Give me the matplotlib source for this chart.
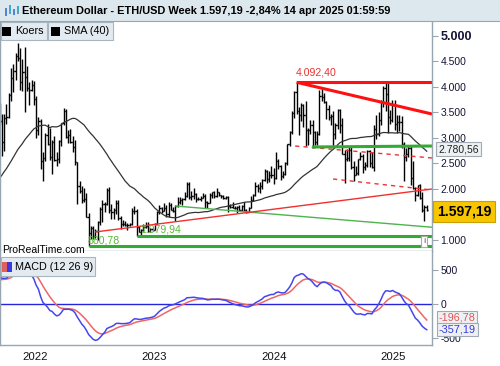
import numpy as np
import pandas as pd
import matplotlib
matplotlib.use('Agg')
import matplotlib.pyplot as plt
from matplotlib.patches import Rectangle
from matplotlib.transforms import blended_transform_factory

plt.rcParams['font.family'] = ['Liberation Sans', 'DejaVu Sans']

# weekly ETH/USD data, weeks start on monday
start_date = '2020-12-07'
# closes before the visible window (only used for SMA / MACD)
warmup_close = [585, 640, 685, 975, 1040, 1230, 1230, 1370, 1610, 1780,
                1930, 1420, 1720, 1850, 1790, 1690, 2080, 2140, 2240, 2310,
                2950, 3910, 3580, 2100, 2710, 2630, 2370, 2250, 1830, 2230,
                2140, 1900, 2190, 2550, 3010, 3300, 3220, 3230, 3930, 3410]

# visible weeks: 2021-09-13 .. 2025-04-14
high = [3680, 3470, 3470, 3660, 3890, 4380, 4460, 4670, 4870, 4770,
        4550, 4780, 4420, 4100, 4140, 4120, 3830, 3420, 3370, 2730,
        3100, 3280, 3200, 2960, 3040, 2730, 2960, 3300, 3580, 3560,
        3150, 3180, 3040, 2960, 2530, 2160, 2050, 2020, 1920, 1530,
        1280, 1270, 1220, 1380, 1650, 1780, 1750, 2020, 2030, 1710,
        1620, 1790, 1780, 1470, 1390, 1380, 1340, 1340, 1620, 1670,
        1610, 1280, 1210, 1310, 1350, 1350, 1230, 1230, 1340, 1560,
        1680, 1640, 1720, 1680, 1740, 1720, 1650, 1680, 1840, 1840,
        1820, 1950, 2140, 2130, 1970, 2010, 1920, 1850, 1860, 1930,
        1900, 1760, 1930, 1950, 1970, 2020, 1950, 1890, 1880, 1870,
        1860, 1700, 1740, 1660, 1660, 1680, 1690, 1750, 1600, 1640,
        1860, 1910, 2140, 2100, 2130, 2200, 2400, 2380, 2350, 2450,
        2420, 2720, 2590, 2470, 2350, 2520, 2890, 3130, 3520, 3930,
        4092.4, 3600, 3680, 3660, 3730, 3200, 3350, 3350, 3140, 3130,
        3950, 3980, 3890, 3720, 3640, 3480, 3520, 3290, 3560, 3560,
        3400, 2760, 2790, 2820, 2820, 2550, 2450, 2590, 2730, 2690,
        2520, 2770, 2770, 2720, 3250, 3450, 3500, 3740, 4010, 4110,
        4110, 3550, 3750, 3750, 3450, 3450, 3440, 2930, 2800, 2850,
        2850, 2550, 2030, 2070, 2100, 1950, 1690, 1690]
low = [3270, 2650, 2740, 3280, 3390, 3720, 3900, 4140, 4500, 3950,
       3920, 3500, 3920, 3650, 3920, 3640, 3000, 3050, 2400, 2160,
       2550, 2870, 2570, 2300, 2550, 2450, 2500, 2840, 3250, 3000,
       2900, 2900, 2730, 2480, 1710, 1920, 1720, 1740, 1450, 880.78,
       1010, 1010, 1030, 1000, 1300, 1360, 1550, 1680, 1530, 1420,
       1420, 1510, 1400, 1220, 1270, 1270, 1190, 1270, 1300, 1510,
       1079.94, 1150, 1090, 1180, 1230, 1160, 1150, 1180, 1190, 1310,
       1500, 1530, 1560, 1460, 1460, 1580, 1540, 1370, 1650, 1710,
       1680, 1780, 1850, 1800, 1780, 1810, 1740, 1780, 1770, 1820,
       1620, 1630, 1720, 1830, 1830, 1850, 1860, 1830, 1810, 1810,
       1550, 1620, 1620, 1600, 1530, 1570, 1570, 1560, 1520, 1540,
       1620, 1760, 1860, 1940, 1930, 2000, 2160, 2120, 2140, 2220,
       2100, 2200, 2400, 2170, 2210, 2280, 2470, 2850, 3080, 3400,
       3470, 3060, 3340, 3210, 2850, 2870, 3070, 2810, 2870, 2860,
       3060, 3730, 3680, 3370, 3360, 3250, 2810, 2980, 3170, 3100,
       2680, 2110, 2540, 2540, 2400, 2150, 2270, 2280, 2560, 2310,
       2380, 2440, 2440, 2420, 2360, 2980, 3040, 3260, 3600, 3520,
       3100, 3270, 3310, 3160, 3100, 3140, 2800, 2150, 2550, 2620,
       2080, 2000, 1760, 1870, 1810, 1540, 1380, 1560]
close = [3330, 2920, 3390, 3420, 3850, 4170, 4320, 4610, 4570, 4090,
         4300, 4200, 3980, 3940, 4040, 3770, 3150, 3330, 2540, 2600,
         3050, 2880, 2630, 2920, 2570, 2580, 2950, 3290, 3520, 3020,
         3060, 2920, 2830, 2520, 2060, 1970, 1790, 1800, 1460, 1130,
         1240, 1070, 1170, 1350, 1600, 1700, 1700, 1980, 1580, 1550,
         1580, 1720, 1440, 1310, 1310, 1290, 1300, 1310, 1570, 1570,
         1260, 1160, 1200, 1260, 1270, 1170, 1220, 1200, 1320, 1550,
         1630, 1570, 1630, 1510, 1690, 1590, 1560, 1670, 1750, 1780,
         1800, 1860, 2090, 1840, 1870, 1900, 1800, 1810, 1830, 1860,
         1750, 1720, 1890, 1940, 1870, 1940, 1890, 1860, 1830, 1850,
         1670, 1650, 1630, 1620, 1650, 1590, 1670, 1580, 1550, 1630,
         1780, 1890, 2050, 2010, 2060, 2170, 2360, 2190, 2270, 2280,
         2210, 2550, 2450, 2260, 2300, 2500, 2880, 3110, 3490, 3900,
         3520, 3450, 3650, 3450, 3150, 3160, 3250, 3110, 2920, 3070,
         3820, 3810, 3700, 3570, 3420, 3430, 3070, 3250, 3540, 3250,
         2690, 2580, 2610, 2760, 2430, 2270, 2320, 2580, 2650, 2440,
         2470, 2750, 2510, 2440, 3180, 3080, 3360, 3710, 3990, 3870,
         3420, 3350, 3640, 3270, 3310, 3320, 2880, 2630, 2690, 2810,
         2220, 2020, 1890, 2080, 1820, 1580, 1640, 1597.19]

title = "Ethereum Dollar - ETH/USD Week 1.597,19 -2,84% 14 apr 2025 01:59:59"
price_ticks = [1000, 1500, 2000, 2500, 3000, 3500, 4000, 4500, 5000]
# 1.500 sits behind the price box in the original
price_tick_labels = ['1.000', '', '2.000', '2.500', '3.000', '3.500',
                     '4.000', '4.500', '5.000']
macd_ticks = [-500, 0, 500]
macd_tick_labels = ['-500', '0', '500']
years = [2022, 2023, 2024, 2025]

last_price, last_label = 1597.19, '1.597,19'
sma_last, sma_label = 2780.56, '2.780,56'
signal_last, signal_label = -196.78, '-196,78'
macd_last, macd_label = -357.19, '-357,19'

# user drawn lines: (week from, price from, week to, price to)
right_week = 229.3
red_thin = (81.8, 1157, right_week, 2000)
red_top = (170, 4092.4, right_week, 4092.4)
red_down = (170, 4092.4, right_week, 3470)
red_dash_a = (169.4, 2843, right_week, 2608)
red_dash_b = (186.0, 2196, right_week, 1980)
green_range = (176.8, 2824, right_week, 2843)
green_thin = (116.8, 1667, right_week, 1250)
green_low_a = (100, 1079.94, right_week, 1079.94)
green_low_b = (79, 880.78, right_week, 880.78)

W, H = 500, 366


def fx(px):
    return px / W


def fy(py):
    return 1 - py / H


all_close = pd.Series(warmup_close + close, dtype=float)
n0 = len(warmup_close)
weeks = np.arange(n0, n0 + len(close))
opens = np.array([warmup_close[-1]] + close[:-1])
sma = all_close.rolling(40).mean()
ema12 = all_close.ewm(span=12, adjust=False).mean()
ema26 = all_close.ewm(span=26, adjust=False).mean()
macd = ema12 - ema26
signal = macd.ewm(span=9, adjust=False).mean()

t0 = pd.Timestamp(start_date)
year_pos = [(pd.Timestamp(f'{y}-01-01') - t0).days / 7 for y in years]

fig = plt.figure(figsize=(W / 100, H / 100), dpi=100)
fig.patch.set_facecolor('white')
gray = '#98a6b2'

ax = fig.add_axes([0, fy(251), fx(432), (251 - 22) / H])
ax2 = fig.add_axes([0, fy(345), fx(432), (345 - 251) / H])

# bars
ax.vlines(weeks, low, high, color='black', lw=1.0)
ax.hlines(opens, weeks - 0.5, weeks, color='black', lw=1.0)
ax.hlines(close, weeks, weeks + 0.5, color='black', lw=1.0)
ax.plot(np.arange(len(sma)), sma, color='#333333', lw=0.9)


def seg(a, line, **kw):
    a.plot([line[0], line[2]], [line[1], line[3]], solid_capstyle='butt', **kw)


seg(ax, green_thin, color='#4fb34f', lw=1.0)
seg(ax, red_thin, color='#f03030', lw=1.0)
seg(ax, red_dash_a, color='#f03030', lw=1.0, ls=(0, (3, 3)))
seg(ax, red_dash_b, color='#f03030', lw=1.0, ls=(0, (3, 3)))
seg(ax, green_range, color='#33aa33', lw=2.2)
seg(ax, red_top, color='#ff1010', lw=2.2)
seg(ax, red_down, color='#ff1010', lw=2.2)
seg(ax, green_low_a, color='#33aa33', lw=2.2)
seg(ax, green_low_b, color='#33aa33', lw=2.2)

ax.text(red_top[0] - 0.3, red_top[1] + 90, '4.092,40', color='#ee3030',
        fontsize=7.6, ha='left', va='bottom')
ax.text(green_low_b[0] - 0.4, green_low_b[1] + 10, '880,78', color='#55bb33',
        fontsize=7.6, ha='left', va='bottom')
ax.text(green_low_a[0] + 1.5, green_low_a[1] + 35, '1.079,94', color='#55bb33',
        fontsize=7.6, ha='left', va='bottom')

ax.set_xlim(40.2, right_week)
ax.set_ylim(784.3, 5274.5)
ax.set_xticks([])
ax.yaxis.tick_right()
ax.set_yticks(price_ticks)
ax.set_yticklabels(price_tick_labels)
ax.tick_params(axis='y', direction='out', length=4, width=0.8, color=gray,
               pad=2, labelsize=7.5, labelcolor='#141436')
lbls = ax.get_yticklabels()
lbls[-1].set_fontweight('bold')
lbls[-1].set_fontsize(9)
for s in ['left', 'right', 'bottom']:
    ax.spines[s].set_color(gray)
    ax.spines[s].set_linewidth(1.0)
ax.spines['top'].set_visible(False)

tr = blended_transform_factory(ax.transAxes, ax.transData)
ax.text(1.014, sma_last, sma_label, transform=tr, ha='left', va='center',
        fontsize=7.5, color='#222222', clip_on=False, zorder=6,
        bbox=dict(boxstyle='square,pad=0.2', fc='#eef1f4', ec='#a0aab4', lw=0.8))
ax.text(1.012, last_price - 40, last_label, transform=tr, ha='left', va='center',
        fontsize=10, fontweight='bold', color='black', clip_on=False, zorder=6,
        bbox=dict(boxstyle='square,pad=0.28', fc='#f7c600', ec='#c9a000', lw=0.8))

# info icon
ax.text(0.982, 0.04, 'i', transform=ax.transAxes, fontsize=6, color='#888888',
        ha='center', va='center', fontweight='bold',
        bbox=dict(boxstyle='square,pad=0.25', fc='white', ec='#aaaaaa', lw=0.8))

# MACD panel
idx = np.arange(len(macd))
ax2.axhline(0, color='#2525dd', lw=1.0)
ax2.plot(idx, signal, color='#ee6666', lw=1.1)
ax2.plot(idx, macd, color='#4646ee', lw=1.1)
ax2.set_xlim(40.2, right_week)
ax2.set_ylim(-602.9, 779.4)
ax2.yaxis.tick_right()
ax2.set_yticks(macd_ticks)
ax2.set_yticklabels(macd_tick_labels)
ax2.tick_params(axis='y', direction='out', length=4, width=0.8, color=gray,
                pad=2, labelsize=7.5, labelcolor='#141436')
ax2.set_xticks(year_pos)
ax2.set_xticklabels([str(y) for y in years])
ax2.tick_params(axis='x', length=0, pad=5, labelsize=8.2, labelcolor='#111111')
for s in ['left', 'right', 'bottom']:
    ax2.spines[s].set_color(gray)
    ax2.spines[s].set_linewidth(1.0)
ax2.spines['top'].set_visible(False)

tr2 = blended_transform_factory(ax2.transAxes, ax2.transData)
ax2.text(1.016, signal_last, signal_label, transform=tr2, ha='left', va='center',
         fontsize=7.8, color='#e05555', clip_on=False, zorder=6,
         bbox=dict(boxstyle='square,pad=0.15', fc='#eef1f4', ec='#a0aab4', lw=0.8))
ax2.text(1.016, macd_last - 20, macd_label, transform=tr2, ha='left', va='center',
         fontsize=7.8, color='#3838dd', clip_on=False, zorder=6,
         bbox=dict(boxstyle='square,pad=0.15', fc='#eef1f4', ec='#a0aab4', lw=0.8))

# title bar
fig.add_artist(Rectangle((0, fy(21)), 1, 21 / H, transform=fig.transFigure,
                         fc='#dde7ee', ec='none', zorder=8))
fig.add_artist(plt.Line2D([0, 1], [fy(21), fy(21)], transform=fig.transFigure,
                          color=gray, lw=0.8, zorder=9))
for x0, y0, hgt, col in [(5, 8, 8, '#4f86d8'), (9, 5, 9, '#45a8c8'),
                         (13, 9, 6, '#4f86d8'), (17, 6, 8, '#45a8c8')]:
    fig.add_artist(Rectangle((fx(x0), fy(y0 + hgt)), 2.2 / W, hgt / H,
                             transform=fig.transFigure, fc=col, ec='none', zorder=9))
fig.text(fx(22), fy(11), title, fontsize=7.9, fontweight='bold', ha='left',
         va='center', zorder=10)


def legend_box(x0, y0, x1, y1):
    fig.add_artist(Rectangle((fx(x0), fy(y1)), fx(x1) - fx(x0), fy(y0) - fy(y1),
                             transform=fig.transFigure, fc='#e3ebf1', ec='#a8b6c2',
                             lw=0.8, zorder=10))


legend_box(0.5, 22, 47, 40)
legend_box(48, 22, 113, 40)
for x0 in [2, 51]:
    fig.add_artist(Rectangle((fx(x0), fy(36)), 9 / W, 9 / H,
                             transform=fig.transFigure, fc='black', ec='none', zorder=11))
fig.text(fx(15), fy(31.5), 'Koers', fontsize=7.8, va='center', zorder=11)
fig.text(fx(64), fy(31.5), 'SMA (40)', fontsize=7.8, va='center', zorder=11)

legend_box(0.5, 257, 95, 276)
fig.add_artist(Rectangle((fx(2), fy(272)), 5 / W, 10 / H, transform=fig.transFigure,
                         fc='#e06060', ec='none', zorder=11))
fig.add_artist(Rectangle((fx(7), fy(272)), 5 / W, 10 / H, transform=fig.transFigure,
                         fc='#3a3ae0', ec='none', zorder=11))
fig.text(fx(15), fy(267), 'MACD (12 26 9)', fontsize=7.8, va='center', zorder=11)

fig.text(fx(2), fy(250), 'ProRealTime.com', fontsize=7.5, va='center', zorder=11)

fig.savefig('out.png', dpi=100)
